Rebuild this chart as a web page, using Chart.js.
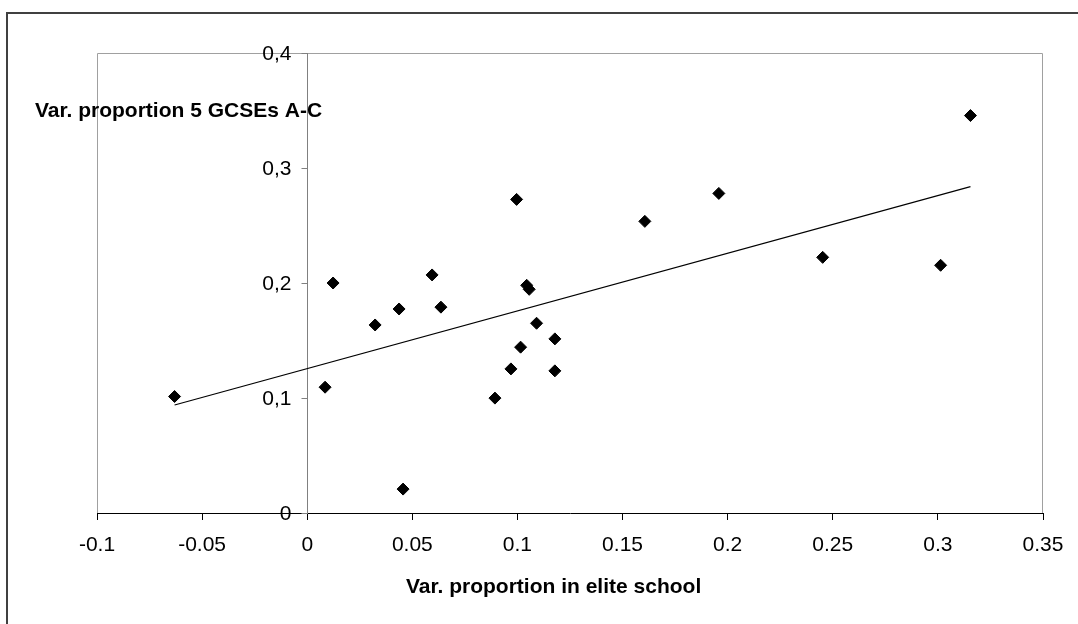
<!DOCTYPE html>
<html>
<head>
<meta charset="utf-8">
<script src="https://cdn.jsdelivr.net/npm/chart.js@4.4.1/dist/chart.umd.min.js"></script>
<style>
  html, body { margin: 0; padding: 0; background: #fff; }
  #wrap { width: 1078px; height: 624px; position: relative; }
</style>
</head>
<body>
<div id="wrap"><canvas id="myChart"></canvas></div>
<script>
// values
const eliteShare = [-0.0631, 0.0085, 0.0123, 0.0323, 0.0437, 0.0594, 0.0636, 0.0456, 0.0893, 0.0969, 0.0996,
  0.1015, 0.1044, 0.1056, 0.1091, 0.1178, 0.1178, 0.1606, 0.1958, 0.2452, 0.3013, 0.3155];
const gcseShare = [0.1013, 0.1094, 0.2000, 0.1635, 0.1774, 0.2070, 0.1790, 0.0208, 0.0999, 0.1253, 0.2727,
  0.1442, 0.1980, 0.1945, 0.1650, 0.1514, 0.1236, 0.2536, 0.2779, 0.2223, 0.2154, 0.3456];
const xTicks = [-0.1, -0.05, 0, 0.05, 0.1, 0.15, 0.2, 0.25, 0.3, 0.35];
const yTicks = [0, 0.1, 0.2, 0.3, 0.4];
const xTitle = 'Var. proportion in elite school';
const yTitle = 'Var. proportion 5 GCSEs A-C';

const FONT = '"Liberation Sans", Arial, sans-serif';

const points = eliteShare.map((x, i) => ({ x: x, y: gcseShare[i] }));

// linear trendline (least squares), like the spreadsheet one
const n = points.length;
const mx = eliteShare.reduce((a, b) => a + b, 0) / n;
const my = gcseShare.reduce((a, b) => a + b, 0) / n;
let sxy = 0, sxx = 0;
points.forEach(p => { sxy += (p.x - mx) * (p.y - my); sxx += (p.x - mx) * (p.x - mx); });
const slope = sxy / sxx;
const icept = my - slope * mx;
const xMin = Math.min(...eliteShare), xMax = Math.max(...eliteShare);
const trend = [{ x: xMin, y: icept + slope * xMin }, { x: xMax, y: icept + slope * xMax }];

const yLabel = (v) => v === 0 ? '0' : v.toFixed(1).replace('.', ',');

const framePlugin = {
  id: 'frame',
  beforeDraw(chart) {
    const ctx = chart.ctx;
    const a = chart.chartArea;
    ctx.save();
    // outer border (only top and left are in view)
    ctx.strokeStyle = '#404040';
    ctx.lineWidth = 2;
    ctx.beginPath();
    ctx.moveTo(7, 624); ctx.lineTo(7, 13); ctx.lineTo(1078, 13);
    ctx.stroke();
    // plot area border
    ctx.strokeStyle = '#a0a0a0';
    ctx.lineWidth = 1;
    ctx.beginPath();
    ctx.moveTo(a.left + 0.5, a.bottom); ctx.lineTo(a.left + 0.5, a.top + 0.5);
    ctx.lineTo(a.right - 0.5, a.top + 0.5); ctx.lineTo(a.right - 0.5, a.bottom);
    ctx.stroke();
    ctx.restore();
  },
  afterDraw(chart) {
    const ctx = chart.ctx;
    const xs = chart.scales.x, ys = chart.scales.y;
    const ax = Math.round(xs.getPixelForValue(0)) + 0.5;
    ctx.save();
    // y ticks and labels sit at x = 0, to the left of the axis
    ctx.strokeStyle = '#808080';
    ctx.lineWidth = 1;
    ctx.fillStyle = '#000';
    ctx.font = '21px ' + FONT;
    ctx.textAlign = 'right';
    ctx.textBaseline = 'middle';
    yTicks.forEach(v => {
      const py = Math.round(ys.getPixelForValue(v)) + 0.5;
      ctx.beginPath();
      ctx.moveTo(ax - 6, py); ctx.lineTo(ax, py);
      ctx.stroke();
      ctx.fillText(yLabel(v), ax - 16, py + 1);
    });
    // axis titles
    ctx.font = 'bold 21px ' + FONT;
    ctx.textBaseline = 'alphabetic';
    ctx.textAlign = 'left';
    ctx.fillText(yTitle, 35, 117);
    ctx.fillText(xTitle, 406, 593);
    ctx.restore();
  }
};

new Chart(document.getElementById('myChart').getContext('2d'), {
  type: 'scatter',
  data: {
    datasets: [
      {
        data: points,
        pointStyle: 'rectRot',
        pointRadius: 6,
        pointHoverRadius: 6,
        backgroundColor: '#000',
        borderColor: '#000',
        borderWidth: 1
      },
      {
        type: 'line',
        data: trend,
        showLine: true,
        pointRadius: 0,
        borderColor: '#000',
        borderWidth: 1.2,
        fill: false
      }
    ]
  },
  options: {
    responsive: true,
    maintainAspectRatio: false,
    animation: false,
    layout: { padding: { left: 97, right: 35, top: 53, bottom: 111 } },
    plugins: { legend: { display: false }, tooltip: { enabled: false } },
    scales: {
      x: {
        type: 'linear',
        position: { y: 0 },
        min: xTicks[0],
        max: xTicks[xTicks.length - 1],
        afterBuildTicks: (s) => { s.ticks = xTicks.map(v => ({ value: v })); },
        grid: { drawOnChartArea: false, drawTicks: true, tickLength: 6, color: '#000' },
        border: { color: '#000', width: 1 },
        ticks: {
          color: '#000',
          font: { family: FONT, size: 21 },
          padding: 14,
          maxRotation: 0,
          autoSkip: false,
          callback: (v) => String(Number(v.toFixed(2)))
        }
      },
      y: {
        type: 'linear',
        position: { x: 0 },
        min: yTicks[0],
        max: yTicks[yTicks.length - 1],
        afterBuildTicks: (s) => { s.ticks = yTicks.map(v => ({ value: v })); },
        grid: { drawOnChartArea: false, drawTicks: false },
        border: { color: '#808080', width: 1 },
        ticks: { display: false }
      }
    }
  },
  plugins: [framePlugin]
});
</script>
</body>
</html>
